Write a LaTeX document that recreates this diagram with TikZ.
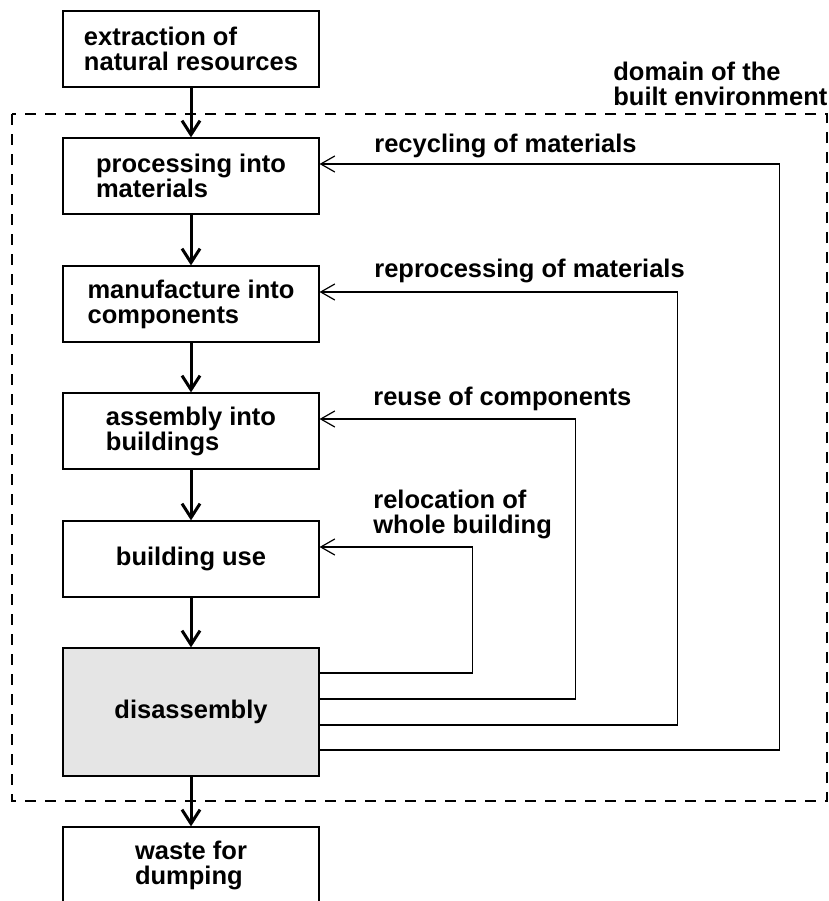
\documentclass[tikz,border=0pt]{standalone}
\usepackage{fontspec}
\setmainfont{Liberation Sans}
\usetikzlibrary{arrows.meta}
\definecolor{boxgrey}{RGB}{229,229,229}

\begin{document}
\begin{tikzpicture}[x=0.5pt,y=-0.5pt,font=\fontsize{12.75pt}{12.5pt}\selectfont\bfseries]
	\useasboundingbox (0,0) rectangle (829,901);
	\clip (0,0) rectangle (829,901);
	\draw[line width=0.9pt,dash pattern=on 5.5pt off 4.5pt] (12,114) rectangle (827,801);
	
	\begin{scope}[every node/.style={rectangle,draw,line width=0.6pt,minimum width=128pt,minimum height=38pt,inner sep=0pt,align=left}]
		\node (E) at (191,49) {extraction of\\natural resources};
		\node (P) at (191,176) {processing into\\materials};
		\node (M) at (191,304) {manufacture into\\components};
		\node (A) at (191,431) {assembly into\\buildings};
		\node (U) at (191,559) {building use};
		\node [fill=boxgrey,minimum height=64pt] (D) at (191,712) {disassembly};
		\node (W) at (191,865) {waste for\\dumping};
	\end{scope}
	
	\begin{scope}[every edge/.style={draw=black,line width=1.5pt,-{Straight Barb[length=7pt,width=9pt]}}]
		\path (E) edge (P);
		\path (P) edge (M);
		\path (M) edge (A);
		\path (A) edge (U);
		\path (U) edge (D);
		\path (D) edge (W);
	\end{scope}
	
	\begin{scope}[line width=0.6pt,-{Straight Barb[length=7pt,width=8pt]}]
		\draw ([yshift=19.5pt]D.east) -- ++(153,0) |- ([yshift=6pt]U.east);
		\draw ([yshift=6.5pt]D.east) -- ++(256,0) |- ([yshift=6pt]A.east);
		\draw ([yshift=-6.5pt]D.east) -- ++(358,0) |- ([yshift=6pt]M.east);
		\draw ([yshift=-19pt]D.east) -- ++(460,0) |- ([yshift=6pt]P.east);
	\end{scope}
	
	\begin{scope}[every node/.style={anchor=base west,inner sep=0pt,align=left}]
		\node (rec) at (374,152) {recycling of materials};
		\node (rep) at (374,277) {reprocessing of materials};
		\node (reu) at (373,405) {reuse of components};
		\node (rel) at (373,533) {relocation of\\whole building};
		\node (dom) at (613,105) {domain of the\\built environment};
	\end{scope}
\end{tikzpicture}
\end{document}
